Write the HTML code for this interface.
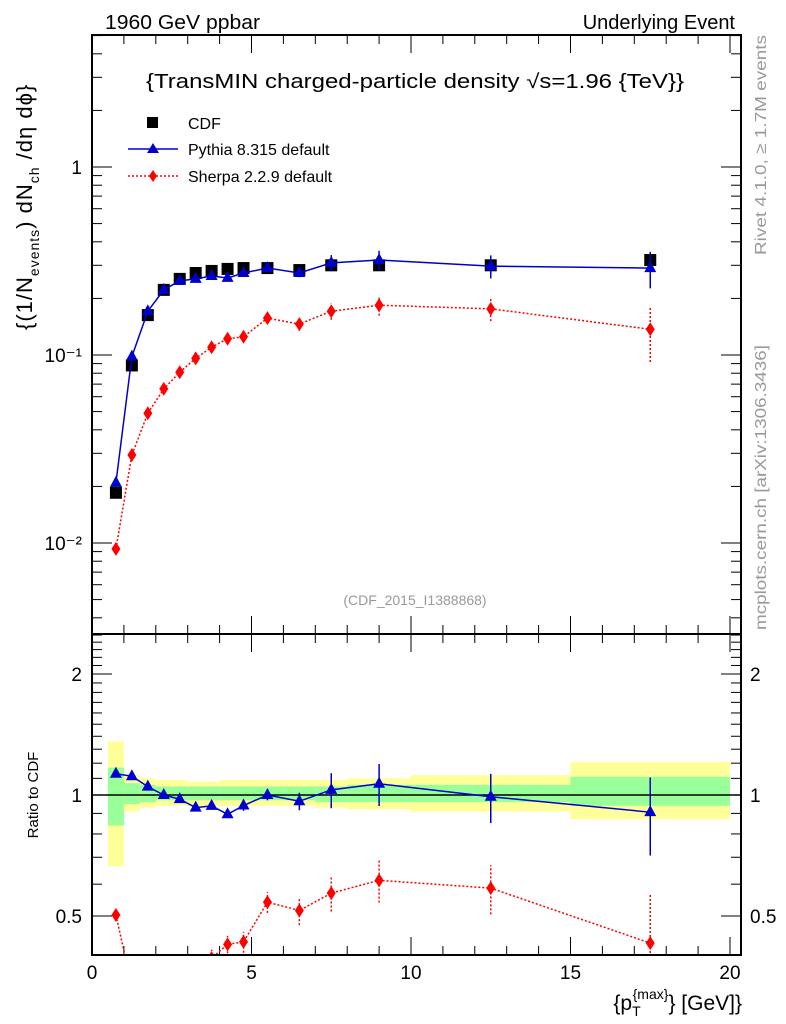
<!DOCTYPE html>
<html><head><meta charset="utf-8"><style>
html,body{margin:0;padding:0;background:#fff;}
svg{display:block;font-family:"Liberation Sans",sans-serif;}
</style></head><body>
<svg id="chart" width="786" height="1024" viewBox="0 0 786 1024">
<defs>
<clipPath id="clipMain"><rect x="92" y="35" width="649" height="599"/></clipPath>
<clipPath id="clipRatio"><rect x="92" y="634" width="649" height="321"/></clipPath>
</defs>
<g id="bands" clip-path="url(#clipRatio)"></g>
<g id="grid"></g>
<g id="mainMarks" clip-path="url(#clipMain)"></g>
<g id="ratioMarks" clip-path="url(#clipRatio)"></g>
<rect x="92" y="35" width="649" height="599" fill="none" stroke="#000" stroke-width="2"/>
<rect x="92" y="634" width="649" height="321" fill="none" stroke="#000" stroke-width="2"/>
<text x="105" y="29" font-size="20" textLength="155" lengthAdjust="spacingAndGlyphs">1960 GeV ppbar</text>
<text x="735" y="29" font-size="20" text-anchor="end">Underlying Event</text>
<text x="146" y="88" font-size="20" textLength="538" lengthAdjust="spacingAndGlyphs">{TransMIN charged-particle density √s=1.96 {TeV}}</text>
<g>
<rect x="147" y="117" width="11" height="11" fill="#000"/>
<text x="188" y="129" font-size="16">CDF</text>
<line x1="128" y1="149" x2="178" y2="149" stroke="#00c" stroke-width="1.5"/>
<polygon points="153,143 159,153 147,153" fill="#00c"/>
<text x="188" y="155" font-size="16">Pythia 8.315 default</text>
<line x1="128" y1="176" x2="178" y2="176" stroke="#f00" stroke-width="1.5" stroke-dasharray="2,2"/>
<polygon points="153,170 157,176 153,182 149,176" fill="#f00"/>
<text x="188" y="182" font-size="16">Sherpa 2.2.9 default</text>
</g>
<text x="415" y="605" font-size="14" fill="#999" text-anchor="middle">(CDF_2015_I1388868)</text>
<text transform="translate(766,255) rotate(-90)" font-size="16" fill="#999" textLength="220" lengthAdjust="spacingAndGlyphs">Rivet 4.1.0, ≥ 1.7M events</text>
<text transform="translate(766,630) rotate(-90)" font-size="16" fill="#999" textLength="285" lengthAdjust="spacingAndGlyphs">mcplots.cern.ch [arXiv:1306.3436]</text>
<text transform="translate(32,330) rotate(-90)" font-size="22" letter-spacing="1">{(1/N<tspan font-size="14" dy="7">events</tspan><tspan dy="-7">) dN</tspan><tspan font-size="14" dy="7">ch</tspan><tspan dy="-7"> /dη  dϕ}</tspan></text>
<text transform="translate(38,795) rotate(-90)" font-size="15" text-anchor="middle">Ratio to CDF</text>
<text x="742" y="1010" font-size="21" text-anchor="end">{p<tspan font-size="14" dy="6">T</tspan><tspan font-size="14" dy="-17" dx="-8">{max}</tspan><tspan dy="11">} [GeV]}</tspan></text>
</svg>
<script>
const xVals=[0.75,1.25,1.75,2.25,2.75,3.25,3.75,4.25,4.75,5.5,6.5,7.5,9,12.5,17.5];
const cdfVals=[0.0185,0.088,0.163,0.222,0.254,0.273,0.28,0.287,0.29,0.29,0.283,0.30,0.30,0.30,0.32];
const cdfErr=[0.02,0.02,0.02,0.02,0.02,0.02,0.02,0.02,0.02,0.02,0.03,0.03,0.04,0.05,0.1];
const pyVals=[0.0209,0.098,0.171,0.222,0.248,0.254,0.263,0.257,0.273,0.29,0.273,0.309,0.32,0.297,0.29];
const pyErr=[0.01,0.01,0.01,0.01,0.01,0.01,0.01,0.02,0.03,0.03,0.05,0.1,0.12,0.14,0.22];
const shVals=[0.0093,0.0294,0.049,0.066,0.081,0.096,0.11,0.122,0.125,0.157,0.146,0.171,0.184,0.176,0.137];
const shErr=[0.03,0.03,0.03,0.03,0.04,0.04,0.05,0.05,0.06,0.06,0.08,0.1,0.12,0.14,0.33];
const binLo=[0.5,1,1.5,2,2.5,3,3.5,4,4.5,5,6,7,8,10,15];
const binHi=[1,1.5,2,2.5,3,3.5,4,4.5,5,6,7,8,10,15,20];
const yelLo=[0.665,0.91,0.93,0.94,0.94,0.94,0.94,0.94,0.94,0.94,0.94,0.93,0.92,0.91,0.87];
const yelHi=[1.36,1.12,1.10,1.09,1.09,1.08,1.08,1.09,1.09,1.09,1.09,1.09,1.1,1.12,1.21];
const grnLo=[0.84,0.95,0.96,0.97,0.97,0.97,0.97,0.97,0.97,0.97,0.97,0.96,0.96,0.96,0.94];
const grnHi=[1.17,1.07,1.06,1.05,1.05,1.05,1.05,1.05,1.05,1.05,1.05,1.05,1.06,1.06,1.11];
const xTickLabels=[0,5,10,15,20];
const ratioTickLabels=[0.5,1,2];
const NS='http://www.w3.org/2000/svg';
const X=v=>92+v*31.9;
const Y=v=>167-188*Math.log10(v);
const R=v=>795-121*Math.log2(v);
function mk(parent,tag,attrs){const e=document.createElementNS(NS,tag);for(const k in attrs)e.setAttribute(k,attrs[k]);document.getElementById(parent).appendChild(e);return e;}
for(let i=0;i<binLo.length;i++){
 const y=mk('bands','rect',{x:X(binLo[i]),y:R(yelHi[i]),width:X(binHi[i])-X(binLo[i]),height:R(yelLo[i])-R(yelHi[i]),fill:'#ffff99'});
 
 
 const g=mk('bands','rect',{x:X(binLo[i]),y:R(grnHi[i]),width:X(binHi[i])-X(binLo[i]),height:R(grnLo[i])-R(grnHi[i]),fill:'#99ff99'});
 
 
}
function line(p,x1,y1,x2,y2,w){return mk(p,'line',{x1,y1,x2,y2,stroke:'#000','stroke-width':w||1});}
for(let v=0;v<=20;v+=1){const big=v%5===0;const L=big?18:9;
 line('grid',X(v),634,X(v),634-L);line('grid',X(v),35,X(v),35+L);
 line('grid',X(v),955,X(v),955-L);line('grid',X(v),634,X(v),634+L);}
for(const v of xTickLabels){const t=mk('grid','text',{x:X(v),y:979,'font-size':19,'text-anchor':'middle'});t.textContent=v;
 
 }
for(let d=-3;d<=0;d++){for(let m=1;m<10;m++){const v=m*Math.pow(10,d);const y=Y(v);if(y<35||y>634)continue;const L=m===1?20:10;
 line('grid',92,y,92+L,y);line('grid',741,y,741-L,y);}}
[[1,'1'],[0.1,'10⁻¹'],[0.01,'10⁻²']].forEach(([v,s])=>{const t=mk('grid','text',{x:82,y:Y(v)+7,'font-size':19,'text-anchor':'end'});t.textContent=s;
 
 });
const rt=[0.4,0.5,0.6,0.7,0.8,0.9,1,1.1,1.2,1.3,1.4,1.5,1.6,1.7,1.8,1.9,2,2.1,2.2,2.3,2.4,2.5];
rt.forEach(v=>{const y=R(v);if(y<634||y>955)return;const L=ratioTickLabels.includes(v)?20:10;line('grid',92,y,92+L,y);line('grid',741,y,741-L,y);});
ratioTickLabels.forEach(v=>{const y=R(v)+7;
 const a=mk('grid','text',{x:82,y,'font-size':19,'text-anchor':'end'});a.textContent=v;
 
 
 const b=mk('grid','text',{x:750,y,'font-size':19});b.textContent=v;
 
 });
line('ratioMarks',92,R(1),741,R(1),1.5);
function series(g,vals,err,fy,color,dash,shape,name){
 const pts=vals.map((v,i)=>X(xVals[i])+','+fy(v)).join(' ');
 if(color){const pl=mk(g,'polyline',{points:pts,fill:'none',stroke:color,'stroke-width':1.5,'stroke-dasharray':dash||'none'});
  
  }
 vals.forEach((v,i)=>{const x=X(xVals[i]),y=fy(v);const c=color||'#000';
  const lo=fy(v*(1-err[i])),hi=fy(v*(1+err[i]));
  mk(g,'line',{x1:x,y1:lo,x2:x,y2:hi,stroke:c,'stroke-width':1.5,'stroke-dasharray':dash||'none'});
  let m;
  if(shape==='sq')m=mk(g,'rect',{x:x-6,y:y-6,width:12,height:12,fill:'#000'});
  else if(shape==='tri')m=mk(g,'polygon',{points:`${x},${y-7} ${x+6},${y+4} ${x-6},${y+4}`,fill:c});
  else m=mk(g,'polygon',{points:`${x},${y-7} ${x+4.5},${y} ${x},${y+7} ${x-4.5},${y}`,fill:c});
  
  });
}
series('mainMarks',shVals,shErr,Y,'#f00','2,2','dia','sherpa');
series('mainMarks',cdfVals,cdfErr,Y,null,null,'sq','cdf');
series('mainMarks',pyVals,pyErr,Y,'#00c',null,'tri','pythia');
const pyRatio=pyVals.map((v,i)=>v/cdfVals[i]);
const shRatio=shVals.map((v,i)=>v/cdfVals[i]);
series('ratioMarks',shRatio,shErr,R,'#f00','2,2','dia','sherpa-ratio');
series('ratioMarks',pyRatio,pyErr,R,'#00c',null,'tri','pythia-ratio');
</script>
</body></html>
